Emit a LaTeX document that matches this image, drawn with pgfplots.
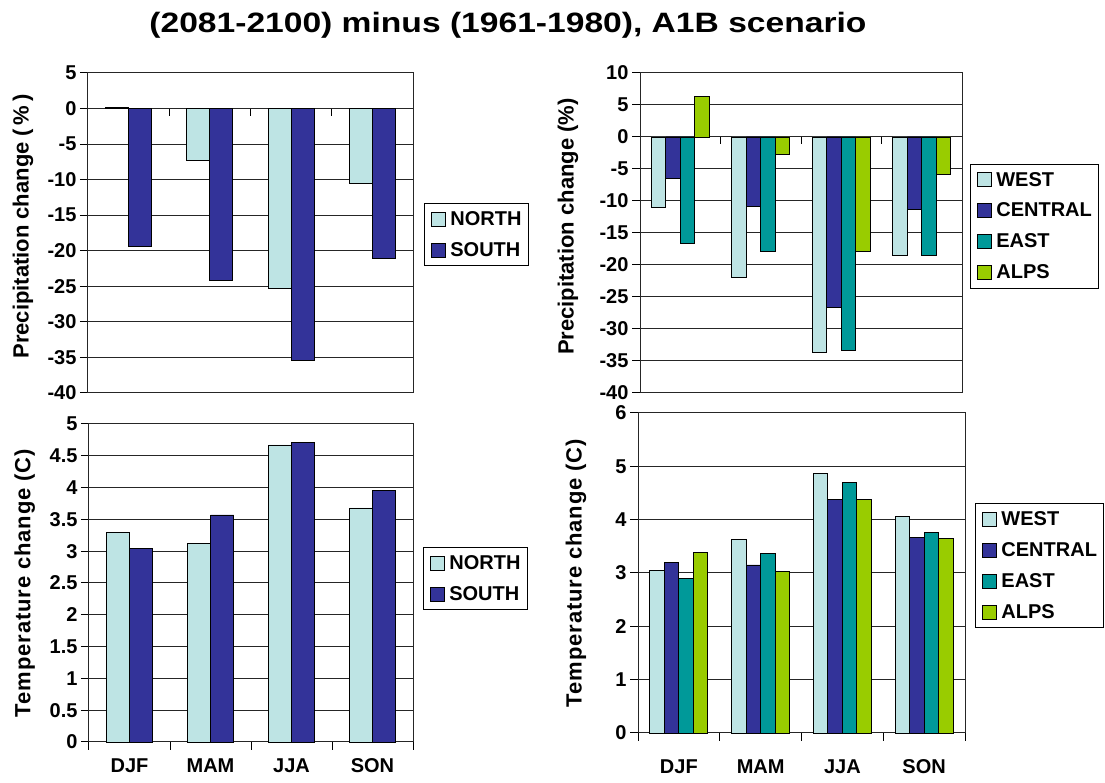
\documentclass[border=0pt]{standalone}
\usepackage{fontspec}
\setmainfont{Liberation Sans}
\newfontfamily\titlefont{Liberation Sans}[FakeStretch=1.2]
\newfontfamily\spacedfont{Liberation Sans}[LetterSpace=4]
\usepackage{pgfplots}
\pgfplotsset{compat=1.18}

\definecolor{cLight}{RGB}{190,228,228}
\definecolor{cDark}{RGB}{51,51,153}
\definecolor{cTeal}{RGB}{0,153,153}
\definecolor{cGreen}{RGB}{153,204,0}

\newcommand{\tfont}{\fontsize{20}{22}\selectfont\bfseries}
\newcommand{\lfont}{\fontsize{22}{24}\selectfont\bfseries}
\newcommand{\slfont}{\spacedfont\fontsize{22}{24}\selectfont\bfseries}
\newcommand{\gfont}{\fontsize{20}{22}\selectfont\bfseries}

\pgfplotsset{
  sq/.style={legend image code/.code={\draw[##1,draw=black,line width=0.8pt] (0pt,-7pt) rectangle (14pt,7pt); \path (18pt,0pt);}},
  base/.style={
    scale only axis,
    anchor=south west,
    clip=false,
    xmin=-0.5, xmax=3.5,
    xtick={0,1,2,3},
    xtick style={draw=none},
    ytick pos=left,
    tick align=outside,
    major tick length=8pt,
    ytick style={black, line width=1pt},
    ymajorgrids,
    grid style={black!85, line width=1pt},
    axis line style={black!85, line width=1pt},
    ybar,
    every axis plot/.append style={draw=black, line width=0.8pt, sq},
    yticklabel style={font=\tfont},
    xticklabel style={font=\tfont},
    /pgf/number format/assume math mode=true,
    legend cell align=left,
    legend style={draw=black, line width=1pt, font=\gfont, row sep=11.5pt, inner xsep=6pt, inner ysep=6pt,
      nodes={inner xsep=1pt}},
  },
}

\begin{document}
\begin{tikzpicture}
\useasboundingbox (0pt,0pt) rectangle (1105pt,783pt);
\node[font=\titlefont\fontsize{28}{32}\selectfont\bfseries, anchor=base] at (508pt,750pt) {(2081-2100) minus (1961-1980), A1B scenario};

% Top-left: precipitation North/South
\begin{axis}[base, at={(88pt,390pt)}, width=325pt, height=320pt,
  ymin=-40, ymax=5, ytick={-40,-35,...,5},
  xticklabels={},
  bar width=23pt,
  ylabel={Precipitation change (\,\%\,)},
  every axis y label/.style={at={(axis description cs:-0.2,0.52)}, rotate=90, anchor=center, font=\lfont},
  legend style={at={(axis description cs:1.034,0.594)}, anchor=north west}]
\addplot[fill=cLight, bar shift=-11.5pt] coordinates {(0,0.2) (1,-7.3) (2,-25.3) (3,-10.5)};
\addplot[fill=cDark, bar shift=11.5pt] coordinates {(0,-19.4) (1,-24.2) (2,-35.4) (3,-21.1)};
\legend{NORTH,SOUTH}
\pgfplotsinvokeforeach{0.5,1.5,2.5}{\draw[black,line width=1pt] (axis cs:#1,0) -- ++(0pt,-7pt);}
\end{axis}

% Top-right: precipitation 4 regions
\begin{axis}[base, at={(640pt,390pt)}, width=322pt, height=320pt,
  ymin=-40, ymax=10, ytick={-40,-35,...,10},
  xticklabels={},
  bar width=14.5pt,
  ylabel={Precipitation change (\%)},
  every axis y label/.style={at={(axis description cs:-0.224,0.52)}, rotate=90, anchor=center, font=\lfont},
  legend style={at={(axis description cs:1.025,0.717)}, anchor=north west}]
\addplot[fill=cLight, bar shift=-21.75pt] coordinates {(0,-11.0) (1,-22.0) (2,-33.6) (3,-18.5)};
\addplot[fill=cDark, bar shift=-7.25pt] coordinates {(0,-6.4) (1,-10.8) (2,-26.7) (3,-11.3)};
\addplot[fill=cTeal, bar shift=7.25pt] coordinates {(0,-16.6) (1,-17.9) (2,-33.4) (3,-18.5)};
\addplot[fill=cGreen, bar shift=21.75pt] coordinates {(0,6.4) (1,-2.7) (2,-17.9) (3,-5.9)};
\legend{WEST,CENTRAL,EAST,ALPS}
\pgfplotsinvokeforeach{0.5,1.5,2.5}{\draw[black,line width=1pt] (axis cs:#1,0) -- ++(0pt,-7pt);}
\end{axis}

% Bottom-left: temperature North/South
\begin{axis}[base, at={(89pt,41pt)}, width=324pt, height=318pt,
  ymin=0, ymax=5, ytick={0,0.5,...,5},
  yticklabel={\pgfmathprintnumber[fixed,precision=1]{\tick}},
  xticklabels={DJF,MAM,JJA,SON},
  xticklabel style={yshift=-5pt},
  bar width=23pt,
  ylabel={Temperature change (C)},
  every axis y label/.style={at={(axis description cs:-0.198,0.5)}, rotate=90, anchor=center, font=\slfont},
  legend style={at={(axis description cs:1.031,0.613)}, anchor=north west}]
\addplot[fill=cLight, bar shift=-11.5pt] coordinates {(0,3.29) (1,3.12) (2,4.67) (3,3.68)};
\addplot[fill=cDark, bar shift=11.5pt] coordinates {(0,3.05) (1,3.57) (2,4.71) (3,3.95)};
\legend{NORTH,SOUTH}
\pgfplotsinvokeforeach{-0.5,0.5,1.5,2.5,3.5}{\draw[black,line width=1pt] (axis cs:#1,0) -- ++(0pt,-8pt);}
\end{axis}

% Bottom-right: temperature 4 regions
\begin{axis}[base, at={(638pt,50pt)}, width=327pt, height=320pt,
  ymin=0, ymax=6, ytick={0,1,...,6},
  xticklabels={DJF,MAM,JJA,SON},
  xticklabel style={yshift=-15pt},
  bar width=14.5pt,
  ylabel={Temperature change (C)},
  every axis y label/.style={at={(axis description cs:-0.19,0.5)}, rotate=90, anchor=center, font=\slfont},
  legend style={at={(axis description cs:1.031,0.719)}, anchor=north west}]
\addplot[fill=cLight, bar shift=-21.75pt] coordinates {(0,3.05) (1,3.63) (2,4.87) (3,4.06)};
\addplot[fill=cDark, bar shift=-7.25pt] coordinates {(0,3.20) (1,3.15) (2,4.38) (3,3.66)};
\addplot[fill=cTeal, bar shift=7.25pt] coordinates {(0,2.90) (1,3.36) (2,4.70) (3,3.76)};
\addplot[fill=cGreen, bar shift=21.75pt] coordinates {(0,3.39) (1,3.03) (2,4.38) (3,3.65)};
\legend{WEST,CENTRAL,EAST,ALPS}
\pgfplotsinvokeforeach{-0.5,0.5,1.5,2.5,3.5}{\draw[black,line width=1pt] (axis cs:#1,0) -- ++(0pt,-8pt);}
\end{axis}
\end{tikzpicture}
\end{document}
